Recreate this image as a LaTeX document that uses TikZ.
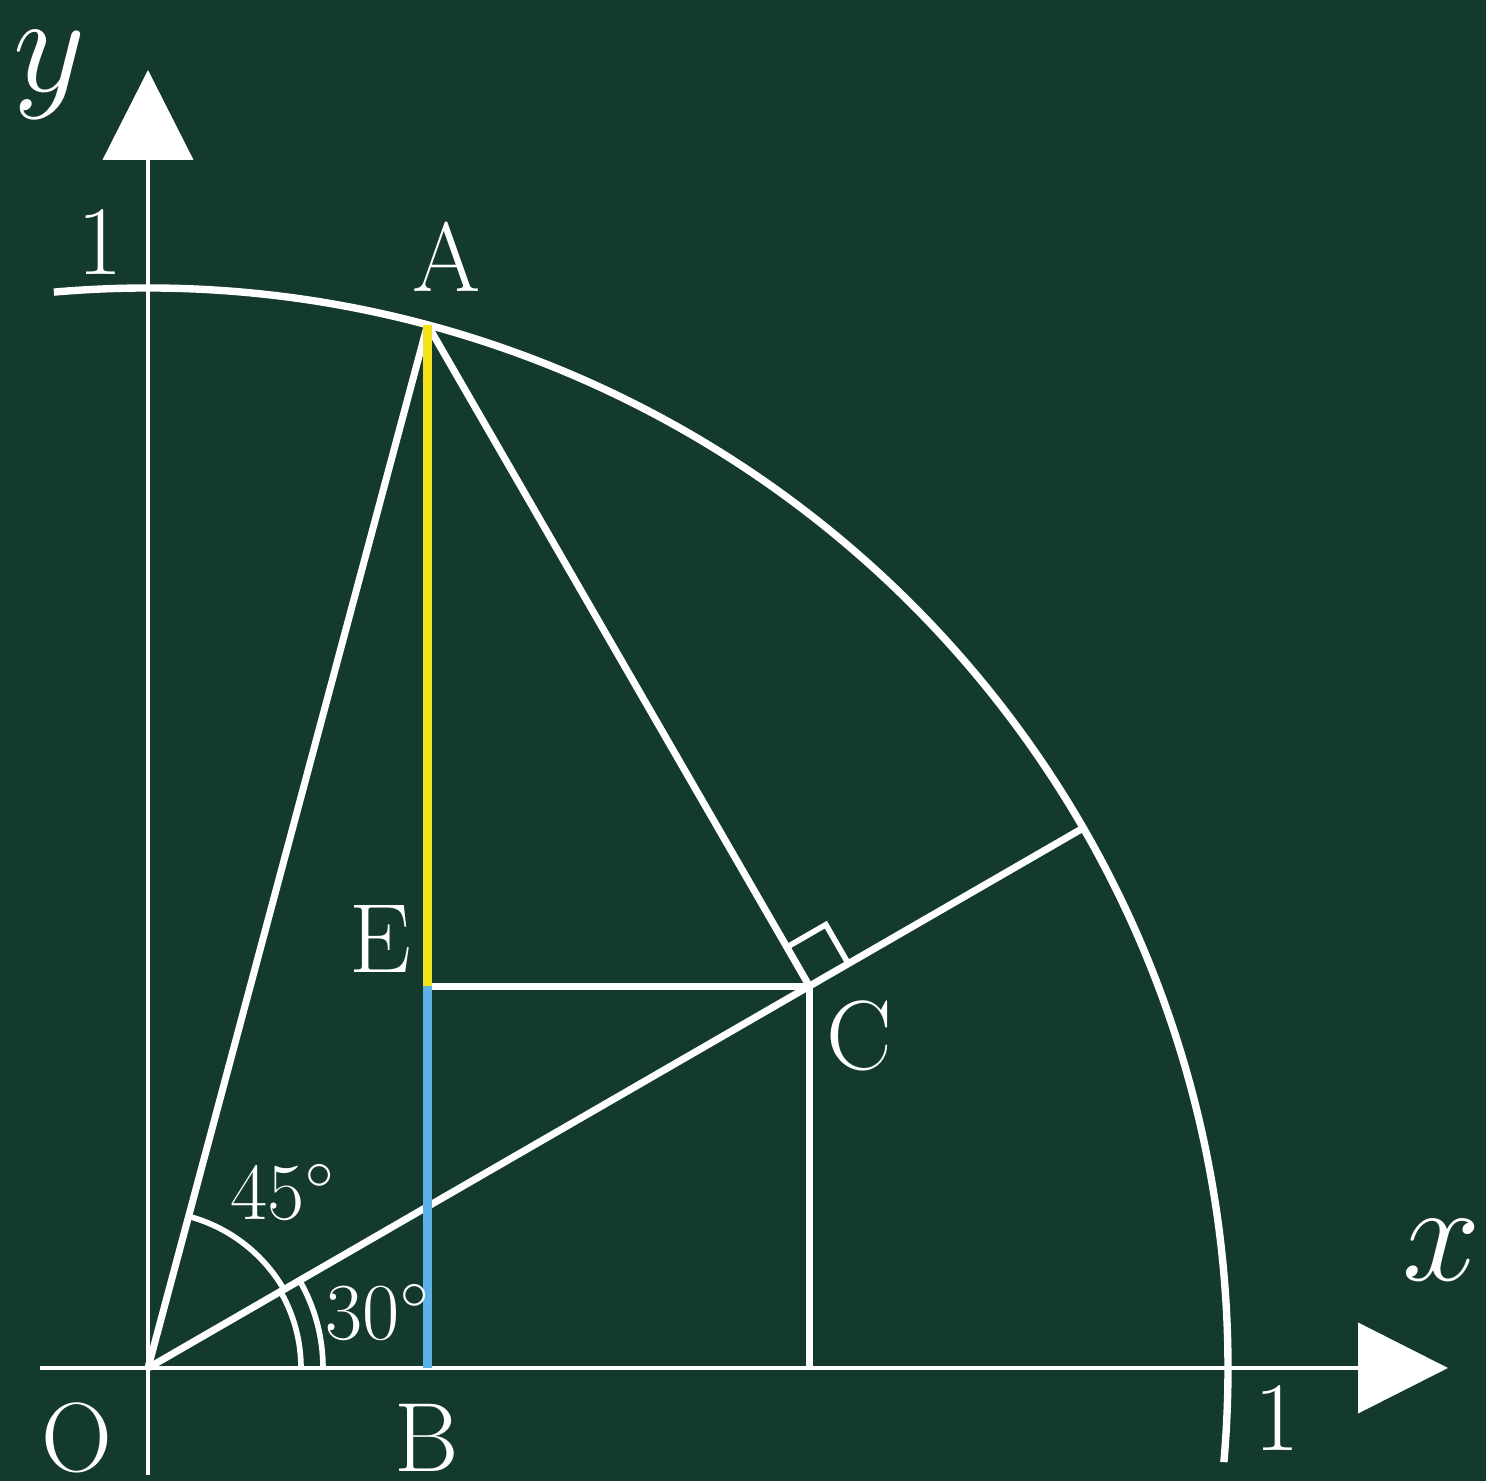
\RequirePackage{fix-cm}
\documentclass[tikz,border=0pt]{standalone}
\usepackage{tikz}
\usetikzlibrary{arrows.meta,calc}
\definecolor{board}{RGB}{20,58,48}
\definecolor{chalkyellow}{RGB}{242,226,30}
\definecolor{chalkblue}{RGB}{92,178,230}
\tikzset{
    axis/.style={draw=white, line width=1.2pt, -{Triangle[length=9mm, width=9mm]}},
    seg/.style={draw=white, line width=2pt},
    unitarc/.style={draw=white, line width=2.1pt},
    anglemark/.style={draw=white, line width=1.6pt},
    rightmark/.style={draw=white, line width=1.6pt},
    pt/.style={text=white, font=\fontsize{28}{28}\selectfont, inner sep=0pt},
    deg/.style={text=white, font=\fontsize{23}{23}\selectfont, inner sep=0pt},
    axlabel/.style={text=white, font=\fontsize{40}{40}\selectfont, inner sep=0pt},
}

\begin{document}
\begin{tikzpicture}
    % board
    \fill[board] (-1.48,-1.13) rectangle (13.38,13.68);
    \useasboundingbox (-1.48,-1.13) rectangle (13.38,13.68);

    % points (1 unit = 10.8cm)
    \coordinate (O) at (0,0);
    \coordinate (A) at (75:10.8);
    \coordinate (C) at ($(O)!0.7071!(30:10.8)$);
    \coordinate (D) at (30:10.8);
    \coordinate (B) at (A |- O);
    \coordinate (E) at (A |- C);
    \coordinate (F) at (C |- O);
    \coordinate (xs) at (-1.08,0);
    \coordinate (xe) at (13.0,0);
    \coordinate (ys) at (0,-1.07);
    \coordinate (ye) at (0,12.98);
    \coordinate (Cd) at ($(C)!0.45cm!(D)$);
    \coordinate (Ca) at ($(C)!0.45cm!(A)$);
    \coordinate (Cq) at ($(Cd)!0.45cm!-90:(C)$);

    % axes
    \draw[axis] (xs) -- (xe);
    \draw[axis] (ys) -- (ye);

    % unit circle
    \draw[unitarc] (95:10.8) arc[start angle=95, end angle=-5, radius=10.8];

    % segments
    \draw[seg] (O) -- (A);
    \draw[seg] (O) -- (D);
    \draw[seg] (A) -- (C);
    \draw[seg] (E) -- (C);
    \draw[seg] (C) -- (F);
    \draw[draw=chalkyellow, line width=2.4pt] (A) -- (E);
    \draw[draw=chalkblue, line width=2.4pt] (E) -- (B);

    % angle marks
    \draw[anglemark] (30:1.57) arc[start angle=30, end angle=75, radius=1.57];
    \draw[anglemark] (0:1.53) arc[start angle=0, end angle=30, radius=1.53];
    \draw[anglemark] (0:1.75) arc[start angle=0, end angle=30, radius=1.75];
    \draw[rightmark] (Cd) -- (Cq) -- (Ca);

    % labels
    \node[axlabel] (ylab) at (-0.98,12.93) {$y$};
    \node[axlabel] (xlab) at (12.94,1.18) {$x$};
    \node[pt] (yone) at (-0.48,11.26) {1};
    \node[pt] (xone) at (11.29,-0.50) {1};
    \node[pt] (Alab) at (2.99,11.11) {A};
    \node[pt] (Olab) at (-0.71,-0.70) {O};
    \node[pt] (Blab) at (2.79,-0.70) {B};
    \node[pt] (Elab) at (2.32,4.29) {E};
    \node[pt] (Clab) at (7.11,3.32) {C};
    \node[deg] (big) at (1.35,1.76) {$45^\circ$};
    \node[deg] (small) at (2.30,0.56) {$30^\circ$};
\end{tikzpicture}
\end{document}
